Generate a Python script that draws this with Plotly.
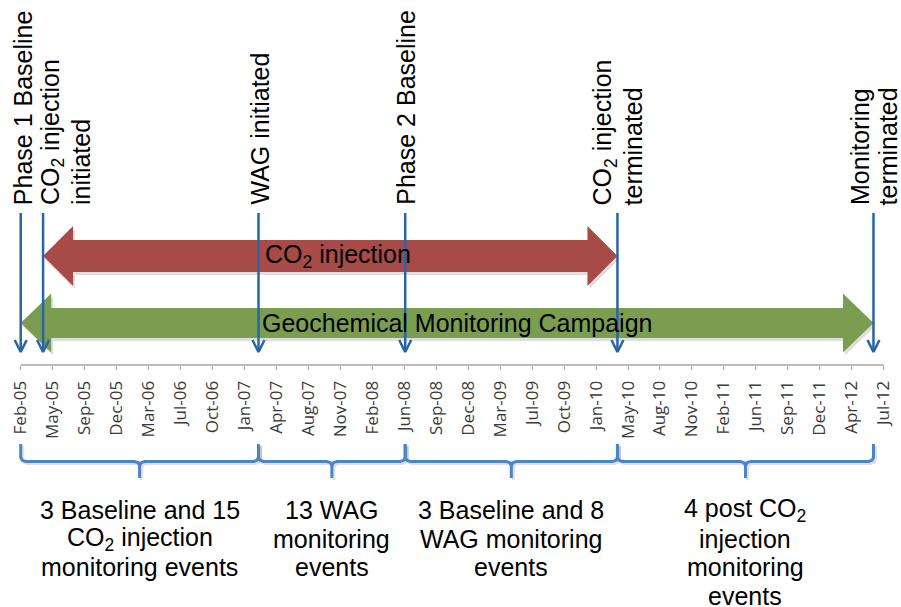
import plotly.graph_objects as go
import pandas as pd

# ---------------- data ----------------
tick_start = "2005-02-17"      # first axis tick (Feb-05)
tick_end = "2012-07-10"        # last axis tick (Jul-12)
tick_step_days = 100

event_labels = ["Phase 1 Baseline",
                "CO<sub>2</sub> injection<br>initiated",
                "WAG initiated",
                "Phase 2 Baseline",
                "CO<sub>2</sub> injection<br>terminated",
                "Monitoring<br>terminated"]
event_dates = ["2005-02-17", "2005-04-28", "2007-03-03",
               "2008-06-04", "2010-03-30", "2012-06-08"]

period_names = ["CO<sub>2</sub> injection", "Geochemical Monitoring Campaign"]
period_start = ["2005-04-28", "2005-02-17"]
period_end = ["2010-03-30", "2012-06-08"]
period_colors = ["#A64B47", "#7B9D50"]

phase_labels = ["3 Baseline and 15<br>CO<sub>2</sub> injection<br>monitoring events",
                "13 WAG<br>monitoring<br>events",
                "3 Baseline and 8<br>WAG monitoring<br>events",
                "4 post CO<sub>2</sub><br>injection<br>monitoring<br>events"]
phase_start = ["2005-02-17", "2007-03-03", "2008-06-04", "2010-03-30"]
phase_end = ["2007-03-03", "2008-06-04", "2010-03-30", "2012-06-08"]

# ---------------- layout helpers ----------------
W, H = 901, 607
X0_PX, X1_PX = 20.7, 883.7          # pixel columns of first / last tick
AXIS_PY = 365                        # pixel row of the date axis
DAYS_PER_PX = (pd.Timestamp(tick_end) - pd.Timestamp(tick_start)).days / (X1_PX - X0_PX)


def shift(d, px):
    return (pd.Timestamp(d) + pd.Timedelta(days=px * DAYS_PER_PX)).isoformat()


def mid(a, b):
    a, b = pd.Timestamp(a), pd.Timestamp(b)
    return (a + (b - a) / 2).isoformat()


def yu(py):  # pixel row -> y units
    return H - py


FONT = "Liberation Sans, Arial, sans-serif"
FS = 25
BLUE = "#2765A8"
BRACE = "#4A85C6"
AXIS_GREY = "#A6A6A6"
LINE_GAP = 29  # px between text lines

fig = go.Figure()

# ---------------- block arrows ----------------
arrow_geom = [(256, 16, 30, 30), (323, 15, 29.5, 30.5)]  # center px, body half, head half, head length px
for name, s, e, col, (cy, bh, hh, hl) in zip(period_names, period_start, period_end, period_colors, arrow_geom):
    for shadow in (True, False):
        dx = 2 if shadow else 0
        dy = 3 if shadow else 0
        c = yu(cy + dy)
        xs = [shift(s, dx), shift(s, hl + dx), shift(s, hl + dx), shift(e, -hl + dx), shift(e, -hl + dx),
              shift(e, dx), shift(e, -hl + dx), shift(e, -hl + dx), shift(s, hl + dx), shift(s, hl + dx), shift(s, dx)]
        ys = [c, c + hh, c + bh, c + bh, c + hh, c, c - hh, c - bh, c - bh, c - hh, c]
        fig.add_trace(go.Scatter(x=xs, y=ys, mode="lines", fill="toself",
                                 fillcolor="rgba(0,0,0,0.13)" if shadow else col,
                                 line=dict(width=0, color="rgba(0,0,0,0)"),
                                 hoverinfo="skip", showlegend=False))
    fig.add_annotation(x=mid(s, e), y=yu(cy), text=name, showarrow=False,
                       xshift=8 if "injection" in name else 10,
                       font=dict(family=FONT, size=FS, color="black"))

# ---------------- event arrows ----------------
top_px, tip_px, head_w, head_h = 213, 352, 6, 12
lx, ly = [], []
for d in event_dates:
    lx += [d, d, None, shift(d, -head_w), d, shift(d, head_w), None]
    ly += [yu(top_px), yu(tip_px), None, yu(tip_px - head_h), yu(tip_px), yu(tip_px - head_h), None]
fig.add_trace(go.Scatter(x=lx, y=ly, mode="lines", line=dict(color=BLUE, width=2.5),
                         hoverinfo="skip", showlegend=False))

label_xshift = [2, 9, 1, 0, -13, -14]
for lab, d, xs in zip(event_labels, event_dates, label_xshift):
    for i, line in enumerate(lab.split("<br>")):
        fig.add_annotation(x=d, y=yu(207), text=line, showarrow=False, textangle=-90,
                           xanchor="center", yanchor="bottom", xshift=xs + i * LINE_GAP,
                           font=dict(family=FONT, size=FS, color="black"))

# ---------------- braces ----------------
b_top, b_mid, b_tip = 444, 461.5, 478
for shadow in (True, False):
    bx, by = [], []
    off = 2 if shadow else 0
    for s, e in zip(phase_start, phase_end):
        m = mid(s, e)
        pts = [(s, 0, b_top), (s, 0, b_mid - 4), (s, 1.5, b_mid - 1.2), (s, 5, b_mid),
               (m, -5, b_mid), (m, -1.5, b_mid + 1.2), (m, 0, b_mid + 4), (m, 0, b_tip),
               (m, 0, b_mid + 4), (m, 1.5, b_mid + 1.2), (m, 5, b_mid),
               (e, -5, b_mid), (e, -1.5, b_mid - 1.2), (e, 0, b_mid - 4), (e, 0, b_top)]
        for d, dpx, py in pts:
            bx.append(shift(d, dpx + off))
            by.append(yu(py + off))
        bx.append(None)
        by.append(None)
    fig.add_trace(go.Scatter(x=bx, y=by, mode="lines",
                             line=dict(color="rgba(0,0,0,0.12)" if shadow else BRACE, width=3),
                             hoverinfo="skip", showlegend=False))

for lab, s, e in zip(phase_labels, phase_start, phase_end):
    for i, line in enumerate(lab.split("<br>")):
        fig.add_annotation(x=mid(s, e), y=yu(510 + i * 28.5), text=line, showarrow=False,
                           xanchor="center", yanchor="middle",
                           font=dict(family=FONT, size=FS, color="black"))

# ---------------- axis line (first to last tick) ----------------
fig.add_shape(type="line", xref="x", yref="paper", x0=tick_start, x1=tick_end,
              y0=(H - AXIS_PY) / H, y1=(H - AXIS_PY) / H,
              line=dict(color=AXIS_GREY, width=1.3), layer="below")

# ---------------- axes ----------------
fig.update_layout(
    width=W, height=H, margin=dict(l=0, r=0, t=0, b=0, autoexpand=False),
    paper_bgcolor="white", plot_bgcolor="white",
    xaxis=dict(type="date", domain=[0, 1], automargin=False,
               range=[shift(tick_start, -X0_PX), shift(tick_end, W - X1_PX)],
               tick0=tick_start, dtick=tick_step_days * 86400000, tickformat="%b-%y",
               tickangle=-90, ticks="outside", ticklen=4, tickcolor=AXIS_GREY,
               showline=False, showgrid=False, zeroline=False, ticklabelstandoff=4,
               anchor="free", position=(H - AXIS_PY) / H,
               tickfont=dict(family="Open Sans, sans-serif", size=17, color="#3A3A3A")),
    yaxis=dict(range=[0, H], domain=[0, 1], visible=False, fixedrange=True, automargin=False),
    showlegend=False,
)

fig.write_html("out.html", post_script="document.body.style.margin='0';",
               config={"displayModeBar": False})
